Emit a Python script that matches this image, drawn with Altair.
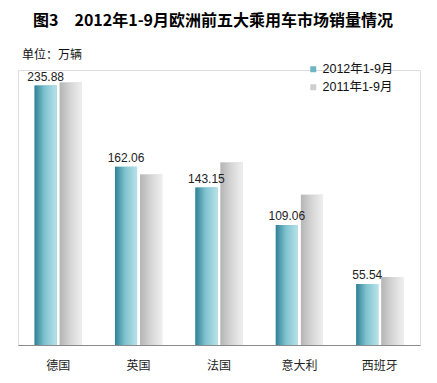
import altair as alt
import pandas as pd

countries = ["德国", "英国", "法国", "意大利", "西班牙"]
series = ["2012年1-9月", "2011年1-9月"]
v2012 = [235.88, 162.06, 143.15, 109.06, 55.54]
v2011 = [238.6, 155.0, 165.8, 136.6, 61.9]

rows = []
for c, a, b in zip(countries, v2012, v2011):
    rows.append({"国家": c, "系列": series[0], "销量": a, "label": f"{a:.2f}"})
    rows.append({"国家": c, "系列": series[1], "销量": b, "label": ""})
df = pd.DataFrame(rows)

FONT = "Liberation Sans, Noto Sans CJK SC"

teal = alt.Gradient(gradient="linear", x1=0, x2=1, y1=0, y2=0, stops=[
    alt.GradientStop(color="#2f8094", offset=0),
    alt.GradientStop(color="#7fc2cf", offset=0.45),
    alt.GradientStop(color="#b8e2ea", offset=1)])
gray = alt.Gradient(gradient="linear", x1=0, x2=1, y1=0, y2=0, stops=[
    alt.GradientStop(color="#b5b5b5", offset=0),
    alt.GradientStop(color="#d6d6d6", offset=0.5),
    alt.GradientStop(color="#efefef", offset=1)])

x = alt.X("国家:N", sort=countries, title=None,
          scale=alt.Scale(paddingInner=0, paddingOuter=0),
          axis=alt.Axis(labelAngle=0, ticks=False, labelPadding=15,
                        labelFontSize=12, labelColor="#222222", labelFont="Noto Sans CJK SC",
                        domainColor="#8a8a8a", domainWidth=1))
xo = alt.XOffset("系列:N", sort=series,
                 scale=alt.Scale(paddingInner=0.12, paddingOuter=0.66))
y = alt.Y("销量:Q", scale=alt.Scale(domain=[0, 250], nice=False), axis=None, title=None)

base = alt.Chart(df)

solid = base.mark_bar().encode(
    x=x, xOffset=xo, y=y,
    color=alt.Color("系列:N", sort=series,
                    scale=alt.Scale(domain=series, range=["#6fb6c4", "#cfcfcf"]),
                    legend=alt.Legend(title=None, orient="none", legendX=289, legendY=-7,
                                      symbolType="square", symbolSize=36, symbolStrokeWidth=0,
                                      labelFontSize=12.5, labelFont=FONT, labelColor="#111111",
                                      rowPadding=5, labelOffset=3)))

g2012 = base.transform_filter(alt.datum["系列"] == series[0]).mark_bar(color=teal).encode(
    x=x, xOffset=xo, y=y)
g2011 = base.transform_filter(alt.datum["系列"] == series[1]).mark_bar(color=gray).encode(
    x=x, xOffset=xo, y=y)

labels = base.mark_text(dy=-9, fontSize=12, font=FONT, color="#222222").encode(
    x=x, xOffset=xo, y=y, text="label:N")

title = alt.Chart(pd.DataFrame({"t": ["图3　2012年1-9月欧洲前五大乘用车市场销量情况"]})).mark_text(
    fontSize=16, fontWeight="bold", font="Noto Sans CJK SC", color="#000000", align="center",
    baseline="middle").encode(x=alt.value(195), y=alt.value(-49), text="t:N")

unit = alt.Chart(pd.DataFrame({"t": ["单位：万辆"]})).mark_text(
    fontSize=12, font="Noto Sans CJK SC", color="#111111", align="left",
    baseline="middle").encode(x=alt.value(4), y=alt.value(-15), text="t:N")

chart = alt.layer(solid, g2012, g2011, labels, title, unit).properties(
    width=402, height=275,
    autosize=alt.AutoSizeParams(type="none"),
    padding={"left": 10, "top": 62, "right": 9, "bottom": 30},
).configure_view(stroke=None).configure(background="#ffffff")

chart.save("out.html", embed_options={"renderer": "svg", "actions": False})
